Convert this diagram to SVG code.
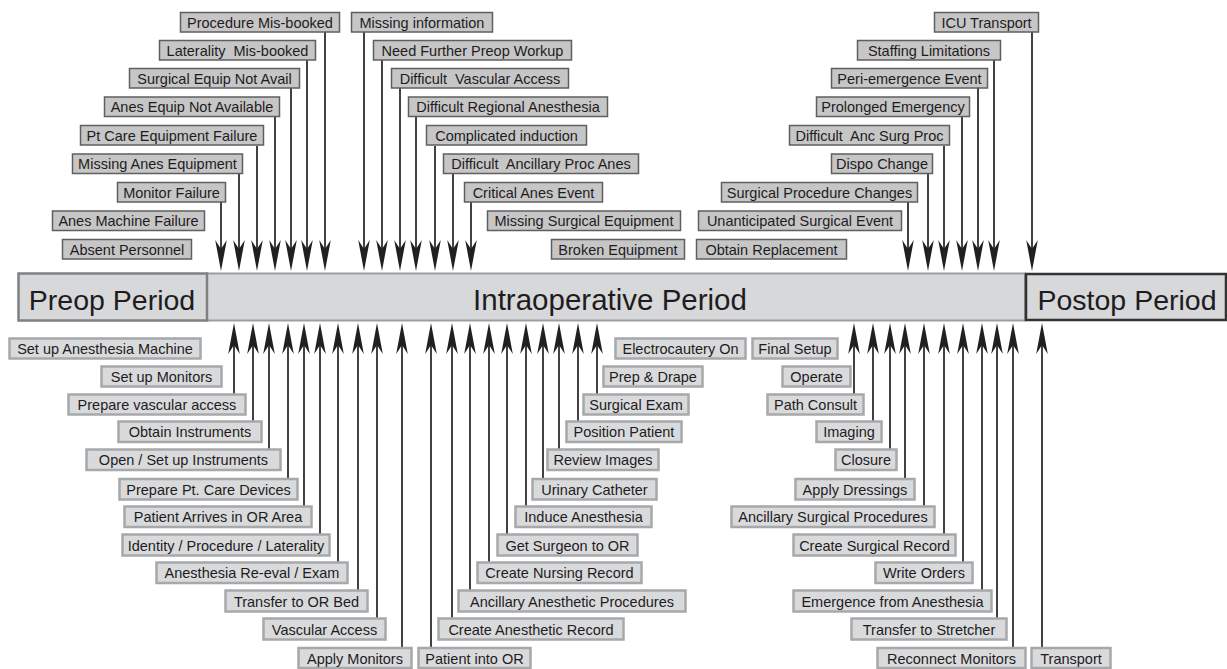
<svg xmlns="http://www.w3.org/2000/svg" width="1227" height="669" viewBox="0 0 1227 669">
<style>
text{font-family:"Liberation Sans",Arial,sans-serif;fill:#1f1c1d;}
.t rect{fill:#c6c6c7;stroke:#5f5f5f;stroke-width:1.5;}
.b rect{fill:#d9dadc;stroke:#a7a8aa;stroke-width:2.5;}
.t text,.b text{font-size:14.5px;text-anchor:middle;}
.big{font-size:28.5px;}
#connectors line{stroke:#231f20;stroke-width:1.7;fill:none;marker-end:url(#ah);}
</style>
<defs>
<marker id="ah" markerUnits="userSpaceOnUse" orient="auto" overflow="visible" refX="0" refY="0" markerWidth="1" markerHeight="1">
<path d="M22,0 L-9,-5.8 L0,0 L-9,5.8 Z" fill="#231f20"/>
</marker>
</defs>
<g id="periods">
<g id="intraop"><rect x="207" y="273.5" width="818" height="47" fill="#d7d8da" stroke="#9c9d9f" stroke-width="2"/><text class="big" x="610" y="310" text-anchor="middle" style="font-size:29.5px">Intraoperative Period</text></g>
<g id="preop"><rect x="18.5" y="273.5" width="188.5" height="47" fill="#d7d8da" stroke="#7f8082" stroke-width="2.5"/><text class="big" x="112" y="310" text-anchor="middle">Preop Period</text></g>
<g id="postop"><rect x="1026" y="274" width="200" height="46" fill="#d7d8da" stroke="#333" stroke-width="2.5"/><text class="big" x="1127" y="310" text-anchor="middle">Postop Period</text></g>
</g>
<g id="connectors">
<line x1="325" y1="32" x2="325" y2="249"/>
<line x1="307" y1="60" x2="307" y2="249"/>
<line x1="291" y1="88" x2="291" y2="249"/>
<line x1="275" y1="117" x2="275" y2="249"/>
<line x1="257" y1="146" x2="257" y2="249"/>
<line x1="239" y1="174" x2="239" y2="249"/>
<line x1="221" y1="202" x2="221" y2="249"/>
<line x1="364" y1="32" x2="364" y2="249"/>
<line x1="382" y1="60" x2="382" y2="249"/>
<line x1="400" y1="88" x2="400" y2="249"/>
<line x1="416" y1="117" x2="416" y2="249"/>
<line x1="435" y1="146" x2="435" y2="249"/>
<line x1="453" y1="174" x2="453" y2="249"/>
<line x1="471" y1="202" x2="471" y2="249"/>
<line x1="1032" y1="32" x2="1032" y2="249"/>
<line x1="994" y1="60" x2="994" y2="249"/>
<line x1="978" y1="88" x2="978" y2="249"/>
<line x1="962" y1="117" x2="962" y2="249"/>
<line x1="944" y1="146" x2="944" y2="249"/>
<line x1="928" y1="174" x2="928" y2="249"/>
<line x1="908" y1="202" x2="908" y2="249"/>
<line x1="234" y1="394" x2="234" y2="345"/>
<line x1="253" y1="421" x2="253" y2="345"/>
<line x1="269" y1="449" x2="269" y2="345"/>
<line x1="288" y1="479" x2="288" y2="345"/>
<line x1="304" y1="506" x2="304" y2="345"/>
<line x1="320" y1="534" x2="320" y2="345"/>
<line x1="338" y1="562" x2="338" y2="345"/>
<line x1="358" y1="590" x2="358" y2="345"/>
<line x1="377" y1="618" x2="377" y2="345"/>
<line x1="402" y1="648" x2="402" y2="345"/>
<line x1="597" y1="394" x2="597" y2="345"/>
<line x1="578" y1="421" x2="578" y2="345"/>
<line x1="559" y1="449" x2="559" y2="345"/>
<line x1="543" y1="479" x2="543" y2="345"/>
<line x1="526" y1="506" x2="526" y2="345"/>
<line x1="507" y1="534" x2="507" y2="345"/>
<line x1="489" y1="562" x2="489" y2="345"/>
<line x1="470" y1="590" x2="470" y2="345"/>
<line x1="452" y1="618" x2="452" y2="345"/>
<line x1="431" y1="648" x2="431" y2="345"/>
<line x1="854" y1="394" x2="854" y2="345"/>
<line x1="873" y1="421" x2="873" y2="345"/>
<line x1="890" y1="449" x2="890" y2="345"/>
<line x1="905" y1="479" x2="905" y2="345"/>
<line x1="924" y1="506" x2="924" y2="345"/>
<line x1="944" y1="534" x2="944" y2="345"/>
<line x1="963" y1="562" x2="963" y2="345"/>
<line x1="982" y1="590" x2="982" y2="345"/>
<line x1="997" y1="618" x2="997" y2="345"/>
<line x1="1013" y1="648" x2="1013" y2="345"/>
<line x1="1042" y1="648" x2="1042" y2="345"/>
</g>
<g class="t">
<g id="n-procedure-misbooked"><rect x="180.5" y="12.5" width="159" height="19.5"/><text x="260" y="27.5">Procedure Mis-booked</text></g>
<g id="n-laterality-misbooked"><rect x="159.5" y="40.5" width="156" height="19.5"/><text x="237.5" y="55.5" xml:space="preserve">Laterality  Mis-booked</text></g>
<g id="n-surgical-equip"><rect x="129.5" y="68.5" width="170" height="19.5"/><text x="214.5" y="83.5">Surgical Equip Not Avail</text></g>
<g id="n-anes-equip"><rect x="104.5" y="97" width="175" height="19.5"/><text x="192" y="112">Anes Equip Not Available</text></g>
<g id="n-pt-care-failure"><rect x="80.5" y="125.5" width="183" height="19.5"/><text x="172" y="140.5">Pt Care Equipment Failure</text></g>
<g id="n-missing-anes-equip"><rect x="72.5" y="154" width="170" height="19.5"/><text x="157.5" y="169">Missing Anes Equipment</text></g>
<g id="n-monitor-failure"><rect x="117.5" y="182.5" width="108" height="19.5"/><text x="171.5" y="197.5">Monitor Failure</text></g>
<g id="n-anes-machine-failure"><rect x="52.5" y="211" width="152" height="19.5"/><text x="128.5" y="226">Anes Machine Failure</text></g>
<g id="n-absent-personnel"><rect x="62.5" y="239.5" width="129" height="19.5"/><text x="127" y="254.5">Absent Personnel</text></g>
<g id="n-missing-information"><rect x="351.5" y="12.5" width="141" height="19.5"/><text x="422" y="27.5">Missing information</text></g>
<g id="n-need-preop"><rect x="373.5" y="40.5" width="198" height="19.5"/><text x="472.5" y="55.5">Need Further Preop Workup</text></g>
<g id="n-difficult-vascular"><rect x="391.5" y="68.5" width="177" height="19.5"/><text x="480" y="83.5" xml:space="preserve">Difficult  Vascular Access</text></g>
<g id="n-difficult-regional"><rect x="408.5" y="97" width="199" height="19.5"/><text x="508" y="112">Difficult Regional Anesthesia</text></g>
<g id="n-complicated-induction"><rect x="426.5" y="125.5" width="160" height="19.5"/><text x="506.5" y="140.5">Complicated induction</text></g>
<g id="n-difficult-ancillary"><rect x="443.5" y="154" width="195" height="19.5"/><text x="541" y="169" xml:space="preserve">Difficult  Ancillary Proc Anes</text></g>
<g id="n-critical-anes"><rect x="464.5" y="182.5" width="138" height="19.5"/><text x="533.5" y="197.5">Critical Anes Event</text></g>
<g id="n-missing-surgical"><rect x="487.5" y="211" width="193" height="19.5"/><text x="584" y="226">Missing Surgical Equipment</text></g>
<g id="n-broken-equipment"><rect x="551.5" y="239.5" width="133" height="19.5"/><text x="618" y="254.5">Broken Equipment</text></g>
<g id="n-icu-transport"><rect x="934.5" y="12.5" width="104" height="19.5"/><text x="986.5" y="27.5">ICU Transport</text></g>
<g id="n-staffing"><rect x="857.5" y="40.5" width="143" height="19.5"/><text x="929" y="55.5">Staffing Limitations</text></g>
<g id="n-peri-emergence"><rect x="831.5" y="68.5" width="156" height="19.5"/><text x="909.5" y="83.5">Peri-emergence Event</text></g>
<g id="n-prolonged"><rect x="816.5" y="97" width="153" height="19.5"/><text x="893" y="112">Prolonged Emergency</text></g>
<g id="n-difficult-anc-surg"><rect x="789.5" y="125.5" width="160" height="19.5"/><text x="869.5" y="140.5" xml:space="preserve">Difficult  Anc Surg Proc</text></g>
<g id="n-dispo-change"><rect x="831.5" y="154" width="101" height="19.5"/><text x="882" y="169">Dispo Change</text></g>
<g id="n-surgical-proc-changes"><rect x="721.5" y="182.5" width="196" height="19.5"/><text x="819.5" y="197.5">Surgical Procedure Changes</text></g>
<g id="n-unanticipated"><rect x="698.5" y="211" width="203" height="19.5"/><text x="800" y="226">Unanticipated Surgical Event</text></g>
<g id="n-obtain-replacement"><rect x="696.5" y="239.5" width="150" height="19.5"/><text x="771.5" y="254.5">Obtain Replacement</text></g>
</g>
<g class="b">
<g id="n-setup-anes-machine"><rect x="9.5" y="338.5" width="191" height="20"/><text x="105" y="354">Set up Anesthesia Machine</text></g>
<g id="n-setup-monitors"><rect x="101.5" y="366.5" width="120" height="20"/><text x="161.5" y="382">Set up Monitors</text></g>
<g id="n-prepare-vascular"><rect x="68.5" y="394.5" width="177" height="20"/><text x="157" y="410">Prepare vascular access</text></g>
<g id="n-obtain-instruments"><rect x="118.5" y="421.5" width="143" height="20.5"/><text x="190" y="437">Obtain Instruments</text></g>
<g id="n-open-instruments"><rect x="86.5" y="449.5" width="194" height="20.5"/><text x="183.5" y="465">Open / Set up Instruments</text></g>
<g id="n-prepare-pt-care"><rect x="119.5" y="479" width="178" height="20.5"/><text x="208.5" y="494.5">Prepare Pt. Care Devices</text></g>
<g id="n-patient-arrives"><rect x="124.5" y="506.5" width="187" height="20.5"/><text x="218" y="522">Patient Arrives in OR Area</text></g>
<g id="n-identity"><rect x="122.5" y="534.5" width="207" height="21"/><text x="226" y="550.5">Identity / Procedure / Laterality</text></g>
<g id="n-anes-reeval"><rect x="156.5" y="562.5" width="191" height="20.5"/><text x="252" y="578">Anesthesia Re-eval / Exam</text></g>
<g id="n-transfer-or-bed"><rect x="225.5" y="590.5" width="142" height="21"/><text x="296.5" y="606.5">Transfer to OR Bed</text></g>
<g id="n-vascular-access"><rect x="263.5" y="618.5" width="122" height="21"/><text x="324.5" y="634.5">Vascular Access</text></g>
<g id="n-apply-monitors"><rect x="298.5" y="648" width="113" height="20"/><text x="355" y="663.5">Apply Monitors</text></g>
<g id="n-electrocautery"><rect x="615.5" y="338.5" width="130" height="20"/><text x="680.5" y="354">Electrocautery On</text></g>
<g id="n-prep-drape"><rect x="603.5" y="366.5" width="99" height="20"/><text x="653" y="382">Prep &amp; Drape</text></g>
<g id="n-surgical-exam"><rect x="583.5" y="394.5" width="105" height="20"/><text x="636" y="410">Surgical Exam</text></g>
<g id="n-position-patient"><rect x="566.5" y="421.5" width="115" height="20.5"/><text x="624" y="437">Position Patient</text></g>
<g id="n-review-images"><rect x="547.5" y="449.5" width="111" height="20.5"/><text x="603" y="465">Review Images</text></g>
<g id="n-urinary-catheter"><rect x="532.5" y="479" width="124" height="20.5"/><text x="594.5" y="494.5">Urinary Catheter</text></g>
<g id="n-induce-anesthesia"><rect x="515.5" y="506.5" width="136" height="20.5"/><text x="583.5" y="522">Induce Anesthesia</text></g>
<g id="n-get-surgeon"><rect x="497.5" y="534.5" width="140" height="21"/><text x="567.5" y="550.5">Get Surgeon to OR</text></g>
<g id="n-create-nursing"><rect x="477.5" y="562.5" width="164" height="20.5"/><text x="559.5" y="578">Create Nursing Record</text></g>
<g id="n-ancillary-anes"><rect x="458.5" y="590.5" width="227" height="21"/><text x="572" y="606.5">Ancillary Anesthetic Procedures</text></g>
<g id="n-create-anes-record"><rect x="438.5" y="618.5" width="185" height="21"/><text x="531" y="634.5">Create Anesthetic Record</text></g>
<g id="n-patient-into-or"><rect x="418.5" y="648" width="112" height="20"/><text x="474.5" y="663.5">Patient into OR</text></g>
<g id="n-final-setup"><rect x="752.5" y="338.5" width="85" height="20"/><text x="795" y="354">Final Setup</text></g>
<g id="n-operate"><rect x="782.5" y="366.5" width="68" height="20"/><text x="816.5" y="382">Operate</text></g>
<g id="n-path-consult"><rect x="767.5" y="394.5" width="96" height="20"/><text x="815.5" y="410">Path Consult</text></g>
<g id="n-imaging"><rect x="816.5" y="421.5" width="65" height="20.5"/><text x="849" y="437">Imaging</text></g>
<g id="n-closure"><rect x="835.5" y="449.5" width="61" height="20.5"/><text x="866" y="465">Closure</text></g>
<g id="n-apply-dressings"><rect x="795.5" y="479" width="119" height="20.5"/><text x="855" y="494.5">Apply Dressings</text></g>
<g id="n-ancillary-surg"><rect x="731.5" y="506.5" width="203" height="20.5"/><text x="833" y="522">Ancillary Surgical Procedures</text></g>
<g id="n-create-surg-record"><rect x="793.5" y="534.5" width="162" height="21"/><text x="874.5" y="550.5">Create Surgical Record</text></g>
<g id="n-write-orders"><rect x="875.5" y="562.5" width="97" height="20.5"/><text x="924" y="578">Write Orders</text></g>
<g id="n-emergence"><rect x="793.5" y="590.5" width="198" height="21"/><text x="892.5" y="606.5">Emergence from Anesthesia</text></g>
<g id="n-transfer-stretcher"><rect x="851.5" y="618.5" width="155" height="21"/><text x="929" y="634.5">Transfer to Stretcher</text></g>
<g id="n-reconnect-monitors"><rect x="877.5" y="648" width="148" height="20"/><text x="951.5" y="663.5">Reconnect Monitors</text></g>
<g id="n-transport"><rect x="1031.5" y="648" width="79" height="20"/><text x="1071" y="663.5">Transport</text></g>
</g>
</svg>
